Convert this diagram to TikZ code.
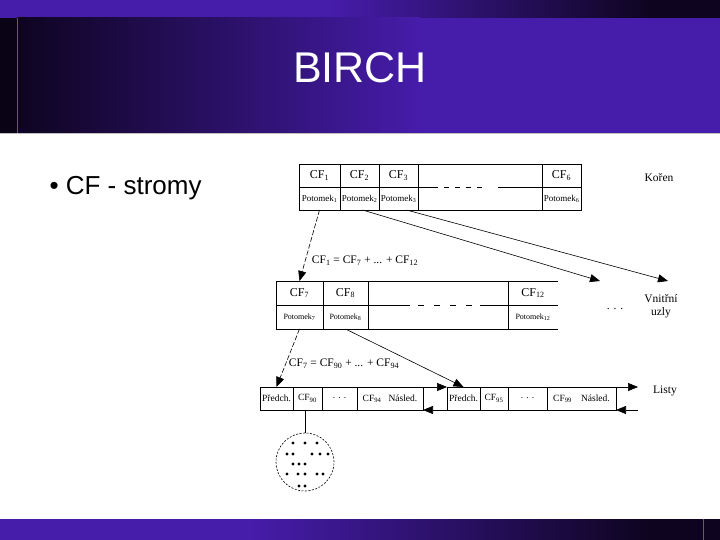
\documentclass[tikz,border=0pt]{standalone}
\usepackage{fontspec}
\setmainfont{Liberation Serif}
\newfontfamily\slidefont{Liberation Sans}
\usepackage{tikz}
\usetikzlibrary{arrows.meta}
\definecolor{slidepurple}{RGB}{70, 28, 170}
\definecolor{slidedark}{RGB}{14, 4, 32}

\begin{document}
\begin{tikzpicture}[x=1pt, y=-1pt, >={Triangle[length=10pt, width=8pt]},
    cfcell/.style={draw, line width=0.7pt, inner sep=0pt, outer sep=0pt, minimum height=23pt, font=\fontsize{12}{13}\selectfont},
    potcell/.style={draw, line width=0.7pt, inner sep=0pt, outer sep=0pt, minimum height=23pt, font=\fontsize{9}{10}\selectfont},
    gapcell/.style={draw, line width=0.7pt, inner sep=0pt, outer sep=0pt},
    leafcell/.style={draw, line width=0.7pt, inner sep=0pt, outer sep=0pt, minimum height=23pt, font=\fontsize{9.5}{10}\selectfont},
    lbl/.style={font=\fontsize{11.5}{13}\selectfont},
    link/.style={->, line width=0.6pt},
    dashlink/.style={->, line width=0.6pt, dash pattern=on 5pt off 2pt}]
  \useasboundingbox (0,0) rectangle (720,540);
  % slide background
  \fill[white] (0,0) rectangle (720,540);
  \fill[slidepurple] (0,0) rectangle (330,18);
  \shade[left color=slidepurple, right color=slidedark] (330,0) rectangle (650,18);
  \fill[slidedark] (650,0) rectangle (720,18);
  \fill[slidedark!70!black] (0,18) rectangle (17,133);
  \shade[left color=slidedark, right color=slidepurple] (17,18) rectangle (420,133);
  \fill[slidepurple] (420,18) rectangle (720,133);
  \draw[slidepurple!80!white, line width=0.6pt] (17,18) -- (17,133);
  \draw[black!25, line width=0.8pt] (0,133.5) -- (720,133.5);
  \fill[slidepurple] (0,519) rectangle (250,540);
  \shade[left color=slidepurple, right color=slidedark] (250,519) rectangle (650,540);
  \fill[slidedark] (650,519) rectangle (720,540);
  \draw[slidepurple!80!white, line width=0.6pt] (703,519) -- (703,540);

  \node[font=\slidefont\fontsize{43}{48}\selectfont, text=white] (title) at (360,68) {BIRCH};
  \node[anchor=west, font=\slidefont\fontsize{26}{30}\selectfont] (bullet) at (46,188) {\textbullet\ CF - stromy};

  % root
  \node[cfcell, minimum width=41pt] (cf1) at (319.5,175.5) {CF\textsubscript{1}};
  \node[cfcell, minimum width=39pt] (cf2) at (359.5,175.5) {CF\textsubscript{2}};
  \node[cfcell, minimum width=39pt] (cf3) at (398.5,175.5) {CF\textsubscript{3}};
  \node[gapcell, minimum width=124pt, minimum height=46pt] (gapA) at (480,187) {};
  \node[cfcell, minimum width=39pt] (cf6) at (561.5,175.5) {CF\textsubscript{6}};
  \node[potcell, minimum width=41pt] (pot1) at (319.5,198.5) {Potomek\textsubscript{1}};
  \node[potcell, minimum width=39pt] (pot2) at (359.5,198.5) {Potomek\textsubscript{2}};
  \node[potcell, minimum width=39pt] (pot3) at (398.5,198.5) {Potomek\textsubscript{3}};
  \node[potcell, minimum width=39pt] (pot6) at (561.5,198.5) {Potomek\textsubscript{6}};
  \draw[line width=0.7pt, dash pattern=on 20pt off 6pt on 5pt off 6pt on 5pt off 6pt on 5pt off 6pt on 5pt off 16pt on 60pt] (gapA.west) -- (gapA.east);

  % inner node
  \node[cfcell, minimum width=47pt, minimum height=24pt] (cf7) at (299.5,293) {CF\textsubscript{7}};
  \node[cfcell, minimum width=45pt, minimum height=24pt] (cf8) at (345.5,293) {CF\textsubscript{8}};
  \node[gapcell, minimum width=140pt, minimum height=48pt] (gapB) at (438,305) {};
  \node[cfcell, draw=none, minimum width=50pt, minimum height=24pt] (cf12) at (533,293) {CF\textsubscript{12}};
  \node[potcell, minimum width=47pt, minimum height=24pt, font=\fontsize{8}{9}\selectfont] (pot7) at (299.5,317) {Potomek\textsubscript{7}};
  \node[potcell, minimum width=45pt, minimum height=24pt, font=\fontsize{8}{9}\selectfont] (pot8) at (345.5,317) {Potomek\textsubscript{8}};
  \node[potcell, draw=none, minimum width=50pt, minimum height=24pt, font=\fontsize{8}{9}\selectfont] (pot12) at (533,317) {Potomek\textsubscript{12}};
  \draw[line width=0.7pt] (gapB.north east) -- (cf12.north east);
  \draw[line width=0.7pt] (gapB.east) -- (cf12.south east);
  \draw[line width=0.7pt] (gapB.south east) -- (pot12.south east);
  \draw[line width=0.7pt, dash pattern=on 42pt off 8pt on 6pt off 10pt on 6pt off 10pt on 6pt off 10pt on 6pt off 8pt on 40pt] (gapB.west) -- (gapB.east);

  % leaves
  \node[leafcell, minimum width=33pt] (predA) at (276.5,398.5) {Předch.};
  \node[leafcell, minimum width=29pt] (cf90) at (307.5,398.5) {CF\textsubscript{90}};
  \node[leafcell, minimum width=35pt] (dotsA) at (339.5,398.5) {. . .};
  \node[leafcell, minimum width=66pt] (cf94) at (390,398.5) {CF\textsubscript{94}\hspace{7pt}Násled.};
  \node[leafcell, minimum width=33pt] (predB) at (463.5,398.5) {Předch.};
  \node[leafcell, minimum width=28pt] (cf95) at (494,398.5) {CF\textsubscript{95}};
  \node[leafcell, minimum width=39pt] (dotsB) at (527.5,398.5) {. . .};
  \node[leafcell, minimum width=69pt] (cf99) at (581.5,398.5) {CF\textsubscript{99}\hspace{9pt}Násled.};
  \coordinate (nextB) at (638,387);
  \coordinate (prevB) at (638,410);
  \draw[link] (cf94.north east) -- (predB.north west);
  \draw[link] (predB.south west) -- (cf94.south east);
  \draw[link] (cf99.north east) -- (nextB);
  \draw[link] (prevB) -- (cf99.south east);

  \node[draw, circle, line width=0.6pt, dash pattern=on 2pt off 1.5pt, minimum size=58pt, inner sep=0pt] (clus) at (305,462) {};
  \draw[line width=0.7pt] (clus.north) -- (clus.north |- cf90.south);
  \foreach \px/\py in {293/443, 305/443, 317/443, 287/454, 293/454, 312/454, 320/454, 328/454,
      293/464, 299/464, 305/464, 287/474, 298/474, 305/474, 317/474, 323/474, 299/486, 305/486}
    \fill (\px,\py) circle (1.6pt);

  % links between levels
  \coordinate (innerA) at (600,281);
  \coordinate (innerB) at (668,281);
  \draw[dashlink] (pot1.south) -- (cf7.north);
  \draw[link] ([xshift=3pt]pot2.south) -- (innerA);
  \draw[link] ([xshift=8pt]pot3.south) -- (innerB);
  \draw[dashlink] (pot7.south) -- (predA.north);
  \draw[link] (pot8.south) -- (predB.north);

  \node[lbl] (sumA) at (365,261) {CF\textsubscript{1} = CF\textsubscript{7} + ... + CF\textsubscript{12}};
  \node[lbl] (sumB) at (344,364) {CF\textsubscript{7} = CF\textsubscript{90} + ... + CF\textsubscript{94}};
  \node[lbl] (root) at (659,178) {Kořen};
  \node[lbl] (dotsC) at (615,309) {. . .};
  \node[lbl, align=center] (inner) at (661,306) {Vnitřní\\uzly};
  \node[lbl] (leaves) at (665,391) {Listy};
\end{tikzpicture}
\end{document}
